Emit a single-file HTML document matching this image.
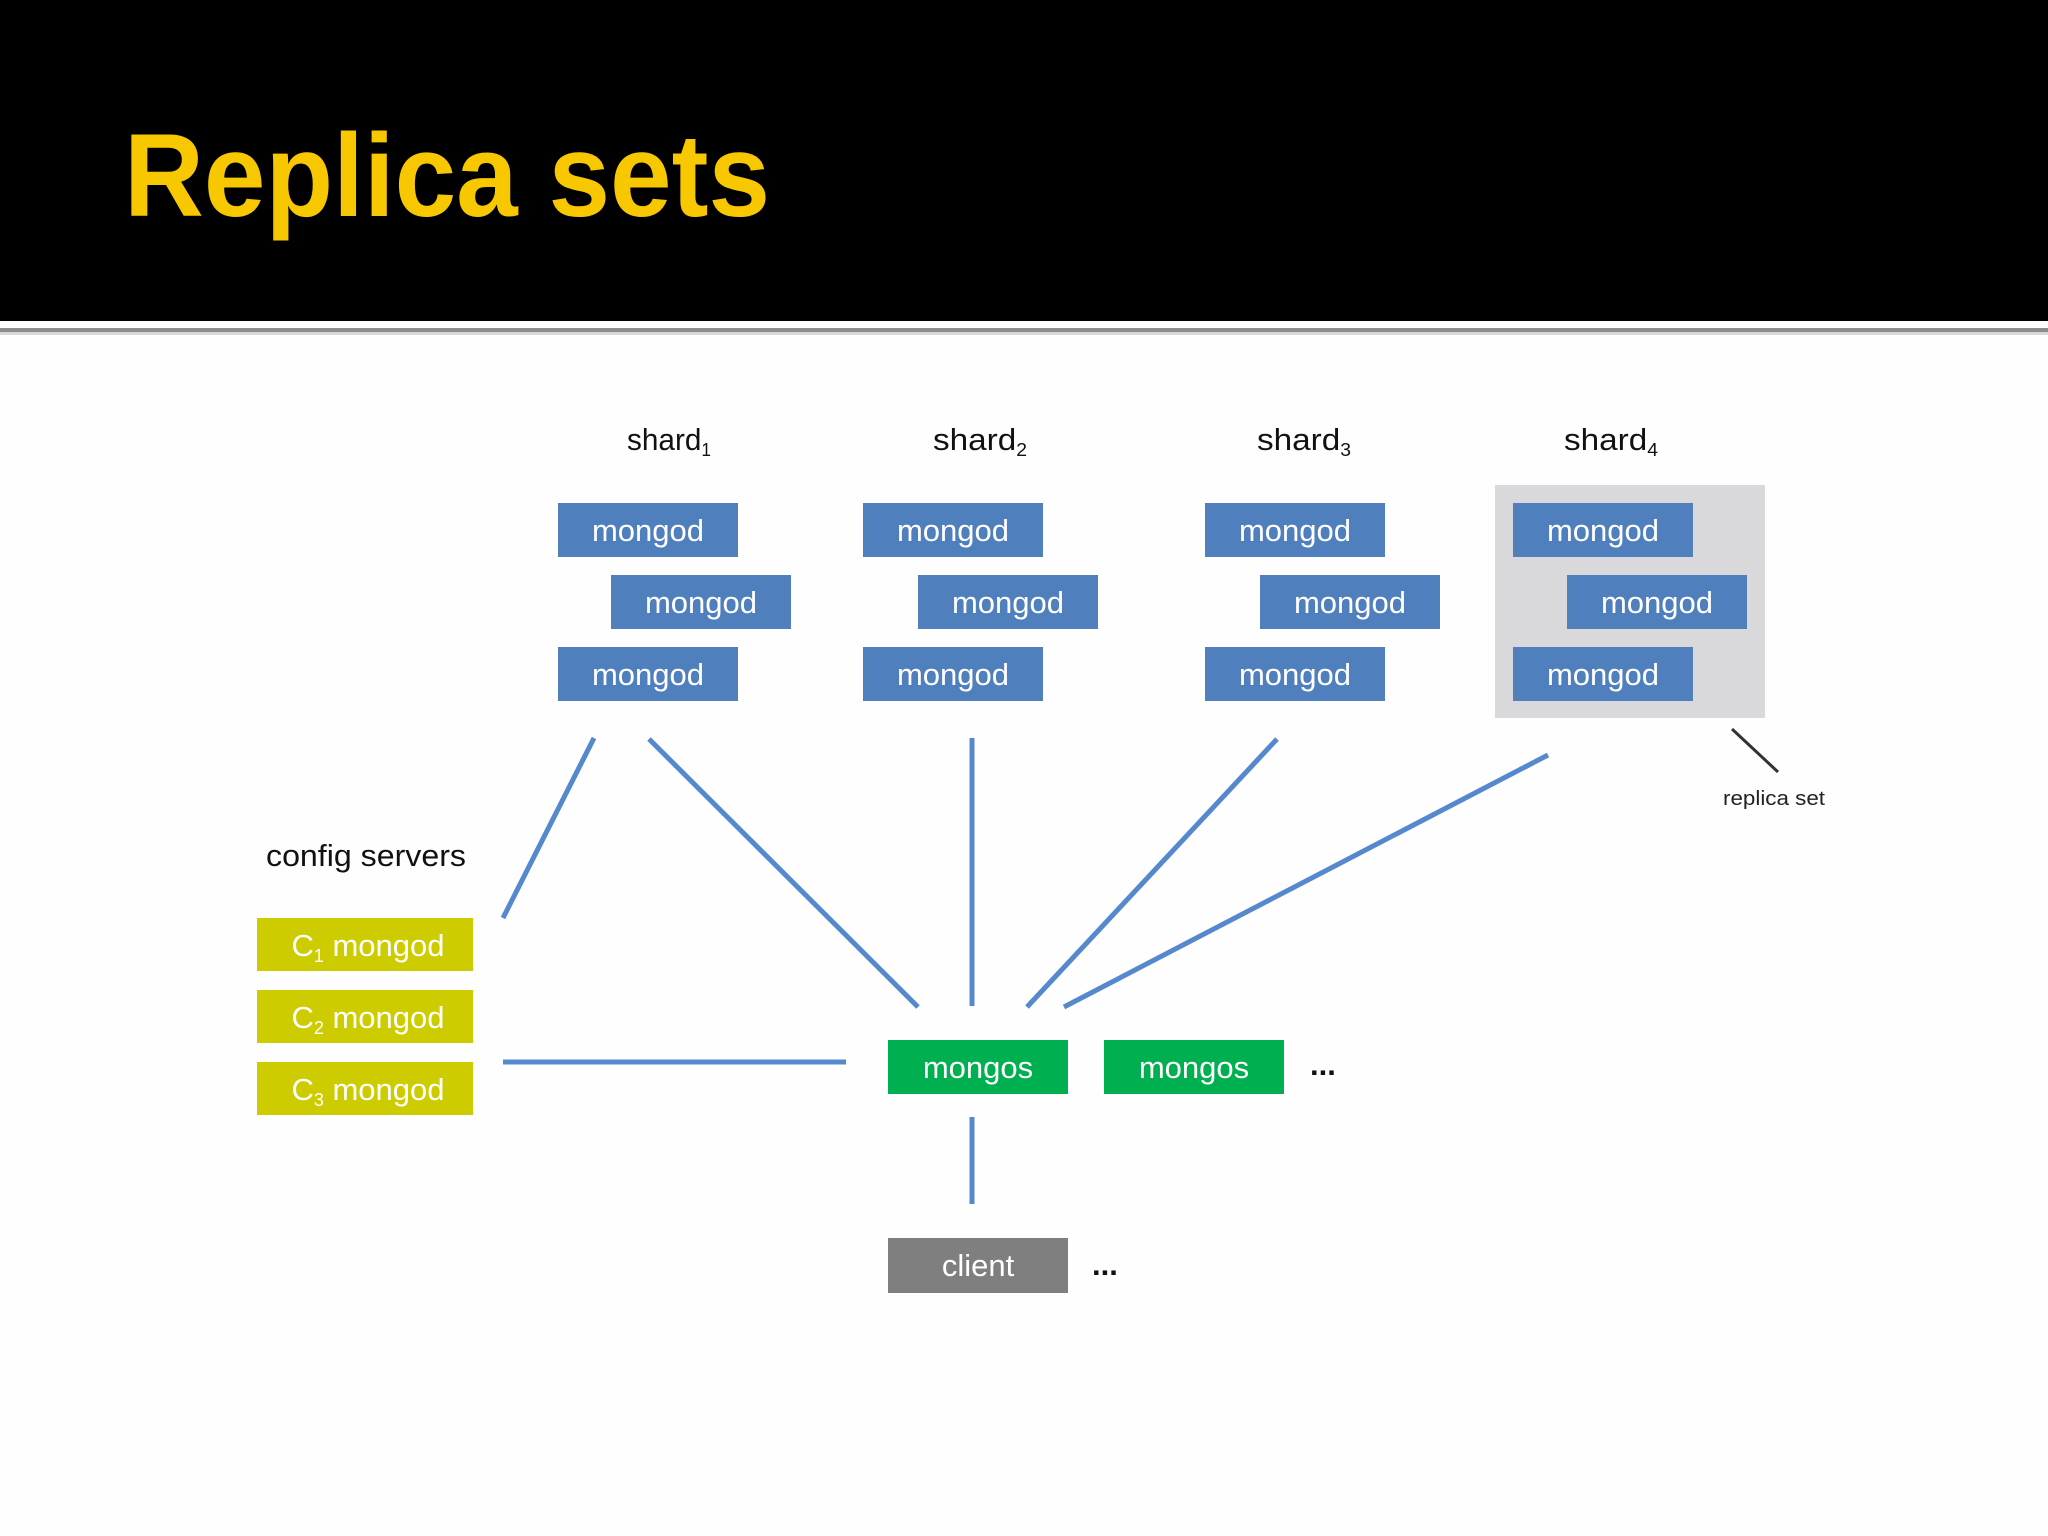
<!DOCTYPE html>
<html><head><meta charset="utf-8"><style>
html,body{margin:0;padding:0;background:#fff;}
svg{display:block;}
text{font-family:"Liberation Sans",sans-serif;}
</style></head><body>
<svg width="2048" height="1536" viewBox="0 0 2048 1536" xmlns="http://www.w3.org/2000/svg">
<rect x="0" y="0" width="2048" height="1536" fill="#fefefe"/>
<rect x="0" y="0" width="2048" height="321" fill="#000"/>
<rect x="0" y="328" width="2048" height="4" fill="#8c8c8c"/>
<rect x="0" y="332" width="2048" height="3" fill="#d8d8d8"/>
<text x="124" y="216" font-size="118" font-weight="bold" fill="#f7c800" textLength="646" lengthAdjust="spacingAndGlyphs">Replica sets</text>

<g font-size="31" fill="#111">
<text x="627" y="450" textLength="84" lengthAdjust="spacingAndGlyphs">shard<tspan font-size="18" dy="6">1</tspan></text>
<text x="933" y="450" textLength="94" lengthAdjust="spacingAndGlyphs">shard<tspan font-size="18" dy="6">2</tspan></text>
<text x="1257" y="450" textLength="94" lengthAdjust="spacingAndGlyphs">shard<tspan font-size="18" dy="6">3</tspan></text>
<text x="1564" y="450" textLength="94" lengthAdjust="spacingAndGlyphs">shard<tspan font-size="18" dy="6">4</tspan></text>
<text x="266" y="866" textLength="200" lengthAdjust="spacingAndGlyphs">config servers</text>
</g>

<rect x="1495" y="485" width="270" height="233" fill="#d9d8da"/>

<g fill="#4f7fbd">
<rect x="558" y="503" width="180" height="54"/><rect x="611" y="575" width="180" height="54"/><rect x="558" y="647" width="180" height="54"/>
<rect x="863" y="503" width="180" height="54"/><rect x="918" y="575" width="180" height="54"/><rect x="863" y="647" width="180" height="54"/>
<rect x="1205" y="503" width="180" height="54"/><rect x="1260" y="575" width="180" height="54"/><rect x="1205" y="647" width="180" height="54"/>
<rect x="1513" y="503" width="180" height="54"/><rect x="1567" y="575" width="180" height="54"/><rect x="1513" y="647" width="180" height="54"/>
</g>
<g font-size="31" fill="#fff" text-anchor="middle">
<text x="648" y="541">mongod</text><text x="701" y="613">mongod</text><text x="648" y="685">mongod</text>
<text x="953" y="541">mongod</text><text x="1008" y="613">mongod</text><text x="953" y="685">mongod</text>
<text x="1295" y="541">mongod</text><text x="1350" y="613">mongod</text><text x="1295" y="685">mongod</text>
<text x="1603" y="541">mongod</text><text x="1657" y="613">mongod</text><text x="1603" y="685">mongod</text>
</g>

<line x1="1732" y1="729" x2="1778" y2="772" stroke="#333" stroke-width="3"/>
<text x="1723" y="805" font-size="20" fill="#222" textLength="102" lengthAdjust="spacingAndGlyphs">replica set</text>

<g stroke="#5588cc" stroke-width="5" fill="none">
<line x1="594" y1="738" x2="503" y2="918"/>
<line x1="649" y1="739" x2="918" y2="1007"/>
<line x1="972" y1="738" x2="972" y2="1006"/>
<line x1="1277" y1="739" x2="1027" y2="1007"/>
<line x1="1548" y1="755" x2="1064" y2="1007"/>
<line x1="503" y1="1062" x2="846" y2="1062"/>
<line x1="972" y1="1117" x2="972" y2="1204"/>
</g>

<g fill="#cccc00">
<rect x="257" y="918" width="216" height="53"/>
<rect x="257" y="990" width="216" height="53"/>
<rect x="257" y="1062" width="216" height="53"/>
</g>
<g font-size="31" fill="#fff" text-anchor="middle">
<text x="368" y="956">C<tspan font-size="18" dy="6">1</tspan><tspan dy="-6"> mongod</tspan></text>
<text x="368" y="1028">C<tspan font-size="18" dy="6">2</tspan><tspan dy="-6"> mongod</tspan></text>
<text x="368" y="1100">C<tspan font-size="18" dy="6">3</tspan><tspan dy="-6"> mongod</tspan></text>
</g>

<rect x="888" y="1040" width="180" height="54" fill="#00b050"/>
<rect x="1104" y="1040" width="180" height="54" fill="#00b050"/>
<rect x="888" y="1238" width="180" height="55" fill="#7f7f7f"/>
<g font-size="31" fill="#fff" text-anchor="middle">
<text x="978" y="1078">mongos</text>
<text x="1194" y="1078">mongos</text>
<text x="978" y="1276">client</text>
</g>
<g font-size="31" font-weight="bold" fill="#111">
<text x="1310" y="1075">...</text>
<text x="1092" y="1275">...</text>
</g>
</svg>
</body></html>
